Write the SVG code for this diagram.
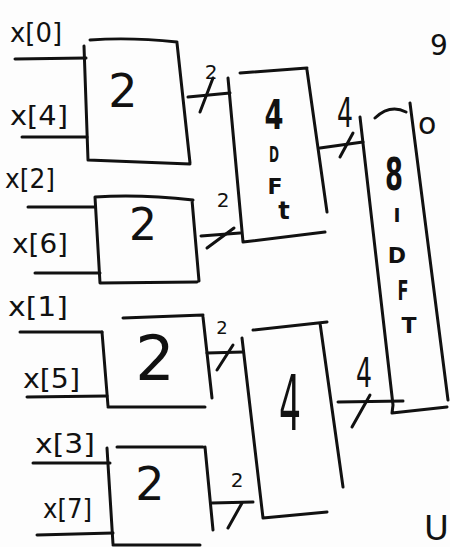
<svg xmlns="http://www.w3.org/2000/svg" width="450" height="547" viewBox="0 0 450 547">
<style>
.ln{fill:none;stroke:#111;stroke-width:3;stroke-linecap:round;stroke-linejoin:round}
.tx{font-family:"DejaVu Sans","Liberation Sans",sans-serif;fill:#111}
.in{font-size:26px}
.big{text-anchor:middle}
</style>
<rect width="450" height="547" fill="#fdfdfd"/>
<g id="labels-inputs" class="tx in">
<text x="10" y="42" textLength="52" lengthAdjust="spacingAndGlyphs">x[0]</text>
<text x="10" y="125" textLength="58" lengthAdjust="spacingAndGlyphs">x[4]</text>
<text x="5" y="188" textLength="50" lengthAdjust="spacingAndGlyphs">x[2]</text>
<text x="12" y="253" textLength="56" lengthAdjust="spacingAndGlyphs">x[6]</text>
<text x="8" y="316" textLength="60" lengthAdjust="spacingAndGlyphs">x[1]</text>
<text x="23" y="388" textLength="57" lengthAdjust="spacingAndGlyphs">x[5]</text>
<text x="35" y="453" textLength="60" lengthAdjust="spacingAndGlyphs">x[3]</text>
<text x="43" y="518" textLength="49" lengthAdjust="spacingAndGlyphs">x[7]</text>
</g>
<g id="connectors" class="ln">
<path d="M15,59 L86,58"/>
<path d="M22,137 L87,137"/>
<path d="M28,207 L95,207"/>
<path d="M35,273 L100,273"/>
<path d="M20,332 L102,332"/>
<path d="M27,397 L107,396"/>
<path d="M33,463 L110,463"/>
<path d="M37,535 L113,533"/>
<path d="M188,97 L230,93"/>
<path d="M200,112 L213,78"/>
<path d="M201,236 L240,233"/>
<path d="M207,248 L234,228"/>
<path d="M207,353 L243,352"/>
<path d="M217,370 L233,345"/>
<path d="M212,503 L253,502"/>
<path d="M228,528 L242,503"/>
<path d="M320,148 L363,142"/>
<path d="M340,157 L353,133"/>
<path d="M338,402 L403,401"/>
<path d="M352,427 L370,395"/>
</g>
<g id="connector-labels" class="tx big">
<text x="211" y="79" font-size="20">2</text>
<text x="223" y="207" font-size="20">2</text>
<text x="222" y="334" font-size="18">2</text>
<text x="237" y="487" font-size="20">2</text>
<text x="345" y="127" font-size="40" textLength="16" lengthAdjust="spacingAndGlyphs">4</text>
<text x="364" y="387" font-size="40" textLength="16" lengthAdjust="spacingAndGlyphs">4</text>
</g>
<g id="node-b1">
<path class="ln" d="M90,40 Q130,37 177,42 M177,43 L190,163 M88,160 L190,164 M84,46 L88,160"/>
<text class="tx big" x="123" y="107" font-size="46">2</text>
</g>
<g id="node-b2">
<path class="ln" d="M95,197 Q140,194 193,200 M192,200 L199,281 M100,283 L197,282 M95,197 L100,283"/>
<text class="tx big" x="143" y="240" font-size="44">2</text>
</g>
<g id="node-b3">
<path class="ln" d="M123,318 L203,315 M203,317 L212,398 M108,407 L205,407 M102,332 L108,406"/>
<text class="tx big" x="155" y="380" font-size="62">2</text>
</g>
<g id="node-b4">
<path class="ln" d="M117,447 L203,447 M205,447 L213,530 M113,545 L200,545 M107,448 L113,544"/>
<text class="tx big" x="150" y="500" font-size="46">2</text>
</g>
<g id="node-dft4a">
<path class="ln" d="M240,73 L307,68 M307,70 L327,212 M243,242 L325,232 M228,78 L243,242"/>
<g class="tx big">
<text x="274" y="129" font-size="40" font-weight="bold" textLength="19" lengthAdjust="spacingAndGlyphs">4</text>
<text x="274" y="162" font-size="22" font-weight="bold" textLength="10" lengthAdjust="spacingAndGlyphs">D</text>
<text x="275" y="194" font-size="22" font-weight="bold">F</text>
<text x="284" y="219" font-size="24" font-weight="bold">t</text>
</g>
</g>
<g id="node-dft4b">
<path class="ln" d="M253,330 L327,322 M320,323 L343,487 M263,518 L327,512 M242,338 L263,518"/>
<text class="tx big" x="290" y="430" font-size="76" textLength="22" lengthAdjust="spacingAndGlyphs">4</text>
</g>
<g id="node-idft8">
<path class="ln" d="M375,118 Q390,104 406,112 M360,117 L393,405 L392,413 L447,407 M410,103 L448,400"/>
<g class="tx big" font-weight="bold">
<text x="394" y="190" font-size="44" textLength="18" lengthAdjust="spacingAndGlyphs">8</text>
<text x="397" y="222" font-size="20" textLength="7" lengthAdjust="spacingAndGlyphs">I</text>
<text x="397" y="263" font-size="22">D</text>
<text x="403" y="300" font-size="26" textLength="11" lengthAdjust="spacingAndGlyphs">F</text>
<text x="409" y="333" font-size="22">T</text>
</g>
</g>
<g id="edge-fragments" class="tx">
<text x="418" y="134" font-size="30">o</text>
<text x="430" y="55" font-size="28">9</text>
<text x="424" y="540" font-size="34">U</text>
</g>
</svg>
